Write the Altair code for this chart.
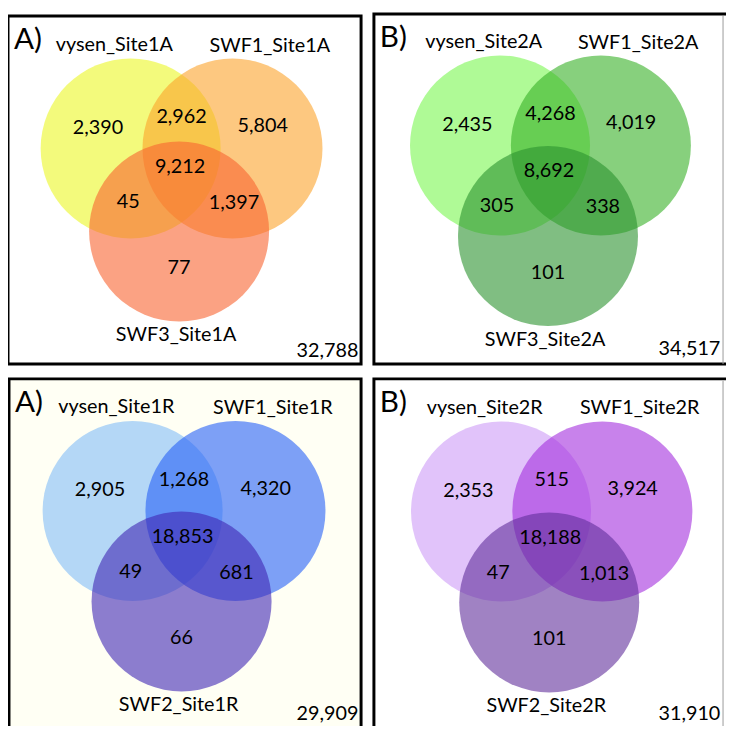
import altair as alt
import pandas as pd

# ---------------- data ----------------
panel_tags = ["A)", "B)", "A)", "B)"]
names_A = ["vysen_Site1A", "vysen_Site2A", "vysen_Site1R", "vysen_Site2R"]
names_B = ["SWF1_Site1A", "SWF1_Site2A", "SWF1_Site1R", "SWF1_Site2R"]
names_C = ["SWF3_Site1A", "SWF3_Site2A", "SWF2_Site1R", "SWF2_Site2R"]
only_A = [2390, 2435, 2905, 2353]
only_B = [5804, 4019, 4320, 3924]
only_C = [77, 101, 66, 101]
both_AB = [2962, 4268, 1268, 515]
both_AC = [45, 305, 49, 47]
both_BC = [1397, 338, 681, 1013]
all_ABC = [9212, 8692, 18853, 18188]
totals = [32788, 34517, 29909, 31910]

# ---------------- style ----------------
colors_A = ["#EBF725", "#7AF750", "#82BCF7", "#CD9BF7"]
colors_B = ["#FCA32B", "#37B126", "#2661F7", "#A32FDE"]
colors_C = ["#F86430", "#2B932F", "#3F26B4", "#612F9B"]
panel_fill = ["#FFFFFF", "#FFFFFF", "#FFFFF4", "#FFFFFF"]
FONT = "Lato"
FS = 20

# ---------------- layout (page pixels) ----------------
R = 91
anchors = [(132, 146), (505.5, 143), (134, 512.5), (506.5, 513)]
spacing = [103, 102, 104, 102.5]
drops = [84, 91.5, 91.5, 92]
frames = [(8, 12, 365, 364), (378, 10, 731, 364), (9, 379, 365, 745), (378, 379, 731, 745)]
open_right = [False, True, False, True]

circles, texts, rects, edges = [], [], [], []
for i in range(4):
    ax, ay = anchors[i]
    bx, by = ax + spacing[i], ay
    cx, cy = (ax + bx) / 2 - 2.5, ay + drops[i]
    for k, (px, py, col) in enumerate([(ax, ay, colors_A[i]), (bx, by, colors_B[i]), (cx, cy, colors_C[i])]):
        circles.append({"panel": i, "order": i * 3 + k, "x": px, "y": py, "color": col})
    x1, y1, x2, y2 = frames[i]
    rects.append({"x": x1, "x2": (x2 + 20) if open_right[i] else x2, "y": y1, "y2": y2, "fill": panel_fill[i]})
    if open_right[i]:
        edges.append({"x": x2, "y": y1 + 2, "y2": y2})
    fmt = lambda n: f"{n:,}"
    items = [
        (panel_tags[i], x1 + 6, y1 + 24, 30, "left"),
        (names_A[i], ax - 16.5, ay - 105, FS, "center"),
        (names_B[i], bx + 37.7, by - 104, FS, "center"),
        (names_C[i], cx - 3, cy + 105, FS, "center"),
        (fmt(only_A[i]), ax - 33, ay - 21, FS, "center"),
        (fmt(only_B[i]), bx + 30.6, by - 22.5, FS, "center"),
        (fmt(both_AB[i]), (ax + bx) / 2, ay - 31.6, FS, "center"),
        (fmt(all_ABC[i]), cx + 1, cy - 65.5, FS, "center"),
        (fmt(both_AC[i]), cx - 51.5, cy - 30, FS, "center"),
        (fmt(both_BC[i]), cx + 55.5, cy - 29, FS, "center"),
        (fmt(only_C[i]), cx, cy + 37, FS, "center"),
        (fmt(totals[i]), x2 - 34, y1 + 339, FS, "center"),
    ]
    for t, px, py, fs, al in items:
        texts.append({"text": t, "x": px, "y": py, "fs": fs, "align": al})

circ_df = pd.DataFrame(circles)
text_df = pd.DataFrame(texts)
rect_df = pd.DataFrame(rects)
edge_df = pd.DataFrame(edges)

xs = alt.Scale(domain=[8, 734])
ys = alt.Scale(domain=[8, 730], reverse=True)

frame_layer = alt.Chart(rect_df).mark_rect(stroke="black", strokeWidth=3, clip=True).encode(
    x=alt.X("x:Q", scale=xs, axis=None),
    x2="x2:Q",
    y=alt.Y("y:Q", scale=ys, axis=None),
    y2="y2:Q",
    fill=alt.Fill("fill:N", scale=None),
)

edge_layer = alt.Chart(edge_df).mark_rule(color="#9A9A9A", strokeWidth=1, clip=True).encode(
    x=alt.X("x:Q", scale=xs, axis=None),
    y=alt.Y("y:Q", scale=ys, axis=None),
    y2="y2:Q",
)

# Vega circle symbol: radius = sqrt(size) / 2
circle_layer = alt.Chart(circ_df).mark_point(filled=True, opacity=0.6, shape="circle", strokeWidth=0).encode(
    x=alt.X("x:Q", scale=xs, axis=None),
    y=alt.Y("y:Q", scale=ys, axis=None),
    color=alt.Color("color:N", scale=None),
    size=alt.value((2 * R) ** 2),
    order=alt.Order("order:Q"),
)

text_center = alt.Chart(text_df[text_df["align"] == "center"]).mark_text(
    font=FONT, color="black", align="center", baseline="middle"
).encode(
    x=alt.X("x:Q", scale=xs, axis=None),
    y=alt.Y("y:Q", scale=ys, axis=None),
    text="text:N",
    size=alt.Size("fs:Q", scale=None),
)

text_left = alt.Chart(text_df[text_df["align"] == "left"]).mark_text(
    font=FONT, color="black", align="left", baseline="middle"
).encode(
    x=alt.X("x:Q", scale=xs, axis=None),
    y=alt.Y("y:Q", scale=ys, axis=None),
    text="text:N",
    size=alt.Size("fs:Q", scale=None),
)

chart = alt.layer(frame_layer, edge_layer, circle_layer, text_center, text_left).properties(
    width=726, height=722, padding=0, autosize=alt.AutoSizeParams(type="none")
).configure_view(stroke=None)

chart.save("out.html", embed_options={"renderer": "svg", "actions": False})
